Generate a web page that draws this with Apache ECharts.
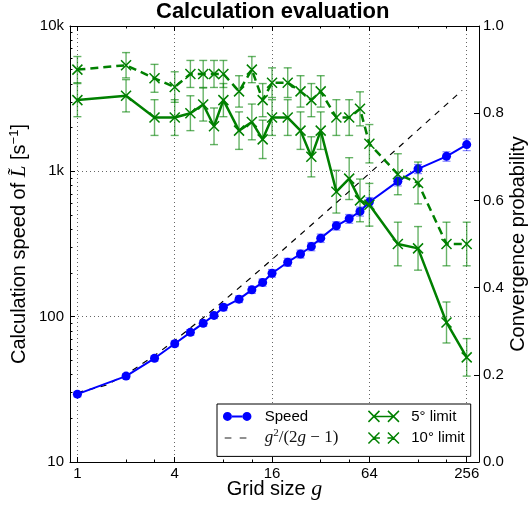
<!DOCTYPE html>
<html>
<head>
<meta charset="utf-8">
<script src="https://cdn.jsdelivr.net/npm/echarts@6/dist/echarts.min.js"></script>
<style>html,body{margin:0;padding:0;background:#fff}#c{width:529px;height:506px}</style>
</head>
<body>
<div id="c"></div>
<script>
// ---- data ----
const gridSizes = [1,2,3,4,5,6,7,8,10,12,14,16,20,24,28,32,40,48,56,64,96,128,192,256];
const speed = [29.3,39.0,51.7,65.1,78.0,90.0,102,116,132,153,172,199,237,270,304,347,422,472,530,615,853,1040,1268,1528];
const speedErr = [1.2,1.6,2.2,2.8,3.5,4.2,5,6,7,8.5,10,12,15,17,20,23,28,33,38,45,60,75,95,140];
const theoryG = [1,1.5,2,3,4,6,8,12,16,24,32,48,64,96,128,192,240];
const theory = [30,33.75,40,54,68.6,98.2,128,187.8,247.7,367.7,487.6,727.6,967.6,1447.5,1927.5,2887.5,3607.5];
const limit5 = [0.83,0.84,0.79,0.79,0.80,0.82,0.77,0.83,0.76,0.78,0.74,0.79,0.79,0.76,0.70,0.76,0.62,0.65,0.60,0.59,0.50,0.49,0.32,0.24];
const limit5Err = [0.038,0.037,0.041,0.041,0.040,0.038,0.042,0.038,0.043,0.041,0.044,0.041,0.041,0.043,0.046,0.043,0.049,0.048,0.049,0.049,0.050,0.050,0.047,0.043];
const limit10 = [0.90,0.91,0.88,0.86,0.89,0.89,0.89,0.89,0.85,0.90,0.83,0.87,0.87,0.85,0.83,0.85,0.79,0.79,0.81,0.73,0.66,0.64,0.50,0.50];
const limit10Err = [0.030,0.029,0.032,0.035,0.031,0.031,0.031,0.031,0.036,0.030,0.038,0.034,0.034,0.036,0.038,0.036,0.041,0.041,0.039,0.044,0.047,0.048,0.050,0.050];
const xTicks = [1,4,16,64,256];
const xMinorTicks = [2,3,8,12,32,48,128,192];
const yLeftTicks = [10,100,1000,10000];
const yLeftTickLabels = ['10','100','1k','10k'];
const yLeftMinorTicks = [20,30,40,50,60,70,80,90,200,300,400,500,600,700,800,900,2000,3000,4000,5000,6000,7000,8000,9000];

const SANS = 'Liberation Sans';
const SERIF = 'Liberation Serif';
const BLUE = '#0000ff', GREEN = '#008000';
const THEORY = 'theory';

const chart = echarts.init(document.getElementById('c'), null, {renderer: 'canvas'});

function errRender(color, capHalf, lw) {
  return function (params, api) {
    const x = api.value(0), lo = api.value(1), hi = api.value(2);
    const p1 = api.coord([x, lo]), p2 = api.coord([x, hi]);
    const style = {stroke: color, lineWidth: lw, fill: null};
    return {type: 'group', children: [
      {type: 'line', shape: {x1: p1[0], y1: p1[1], x2: p2[0], y2: p2[1]}, style: style},
      {type: 'line', shape: {x1: p1[0]-capHalf, y1: p1[1], x2: p1[0]+capHalf, y2: p1[1]}, style: style},
      {type: 'line', shape: {x1: p2[0]-capHalf, y1: p2[1], x2: p2[0]+capHalf, y2: p2[1]}, style: style}
    ]};
  };
}

const tickLabelStyle = {fontFamily: SANS, fontSize: 15, color: '#000'};
const axisLineStyle = {lineStyle: {color: '#000', width: 1}};
const gridLine = {show: true, lineStyle: {color: '#666', width: 1, type: [1, 3]}};
const isPow = (v, b) => { const e = Math.log(v)/Math.log(b); return Math.abs(e - Math.round(e)) < 1e-6; };

const xBase = {type: 'log', logBase: 4, min: 0.9, max: 305, gridIndex: 0};
const yBase = {type: 'log', logBase: 10, min: 10, max: 10000, gridIndex: 0};

const XMARK = 'path://M0,0L10,10M10,0L0,10';
const speedIcon = 'path://M0,0M32,12M1.75,6a4.5,4.5 0 1,0 9,0a4.5,4.5 0 1,0 -9,0zM21.25,6a4.5,4.5 0 1,0 9,0a4.5,4.5 0 1,0 -9,0zM10.5,5L21.5,5L21.5,7L10.5,7z';
const dashIcon = 'path://M0,0M32,12M3.5,5.4L10.2,5.4L10.2,6.6L3.5,6.6zM18.5,5.4L25.2,5.4L25.2,6.6L18.5,6.6z';
const x5Icon = 'path://M0,0M32,12M0.75,0.5L11.75,11.5M11.75,0.5L0.75,11.5M20.25,0.5L31.25,11.5M31.25,0.5L20.25,11.5M6.25,6L25.75,6';
const x10Icon = 'path://M0,0M32,12M0.75,0.5L11.75,11.5M11.75,0.5L0.75,11.5M20.25,0.5L31.25,11.5M31.25,0.5L20.25,11.5M6.25,6L12.25,6M19.75,6L25.75,6';

const richMath = {
  n: {fontFamily: SERIF, fontSize: 17, verticalAlign: 'middle', color: '#111'},
  i: {fontFamily: SERIF, fontStyle: 'italic', fontSize: 17, verticalAlign: 'middle', color: '#111'},
  s: {fontFamily: SERIF, fontSize: 11, lineHeight: 11, padding: [0,0,9,0], verticalAlign: 'middle', color: '#111'}
};

const option = {
  animation: false,
  backgroundColor: '#fff',
  title: {
    text: 'Calculation evaluation', left: 156, top: 1, padding: 0,
    textStyle: {fontFamily: SANS, fontSize: 22, fontWeight: 'bold', color: '#000'}
  },
  grid: {left: 70, right: 50, top: 26, bottom: 44, containLabel: false, outerBoundsMode: 'none'},
  legend: {
    orient: 'vertical', left: 217, top: 404, height: 53,
    padding: [1.6, 6, 7.6, 4.2], itemGap: 0, itemWidth: 32, itemHeight: 12,
    backgroundColor: '#fff', borderColor: '#000', borderWidth: 1, borderRadius: 0,
    selectedMode: false,
    textStyle: {fontFamily: SANS, fontSize: 15, color: '#000', lineHeight: 21.6, padding: [0,0,0,6.5], rich: richMath},
    formatter: function (name) {
      if (name === THEORY) return '{i|g}{s|2}{n|/(2}{i|g}{n| − 1)}';
      return name;
    },
    data: [
      {name: 'Speed', icon: speedIcon, itemStyle: {color: BLUE, borderWidth: 0}, textStyle: {width: 103}},
      {name: THEORY, icon: dashIcon, itemStyle: {color: '#222', borderWidth: 0}, textStyle: {width: 103}},
      {name: '5° limit', icon: x5Icon, itemStyle: {color: 'rgba(0,0,0,0)', borderColor: GREEN, borderWidth: 1.5}},
      {name: '10° limit', icon: x10Icon, itemStyle: {color: 'rgba(0,0,0,0)', borderColor: GREEN, borderWidth: 1.5}}
    ]
  },
  xAxis: [
    Object.assign({}, xBase, {
      position: 'bottom',
      name: '{n|Grid size }{i|g}', nameLocation: 'middle', nameGap: 16, nameMoveOverlap: false,
      nameTextStyle: {fontFamily: SANS, fontSize: 20, color: '#000', rich: {
        n: {fontFamily: SANS, fontSize: 20, color: '#000'},
        i: {fontFamily: SERIF, fontStyle: 'italic', fontSize: 22, color: '#000'}}},
      axisLine: axisLineStyle,
      axisTick: {show: true, inside: true, length: 5, lineStyle: {color: '#000'}, customValues: xTicks},
      axisLabel: Object.assign({margin: 4, customValues: xTicks,
        formatter: v => isPow(v, 4) ? String(Math.round(v)) : ''}, tickLabelStyle),
      splitLine: gridLine
    }),
    Object.assign({}, xBase, {
      position: 'top',
      axisLine: axisLineStyle,
      axisTick: {show: true, inside: true, length: 5, lineStyle: {color: '#000'}, customValues: xTicks},
      axisLabel: {show: false}, splitLine: {show: false}
    }),
    Object.assign({}, xBase, {
      position: 'bottom', axisLine: {show: false},
      axisTick: {show: true, inside: true, length: 2.5, lineStyle: {color: '#000'}, customValues: xMinorTicks},
      axisLabel: {show: false}, splitLine: {show: false}
    }),
    Object.assign({}, xBase, {
      position: 'top', axisLine: {show: false},
      axisTick: {show: true, inside: true, length: 2.5, lineStyle: {color: '#000'}, customValues: xMinorTicks},
      axisLabel: {show: false}, splitLine: {show: false}
    })
  ],
  yAxis: [
    Object.assign({}, yBase, {
      position: 'left',
      name: '{n|Calculation speed of }{i|L̃}{n| [s}{s|−1}{n|]}',
      nameLocation: 'middle', nameRotate: 90, nameGap: 40, nameMoveOverlap: false,
      nameTextStyle: {fontFamily: SANS, fontSize: 20, color: '#000', rich: {
        n: {fontFamily: SANS, fontSize: 20, color: '#000', verticalAlign: 'middle'},
        i: {fontFamily: SERIF, fontStyle: 'italic', fontSize: 21, color: '#000', verticalAlign: 'middle'},
        s: {fontFamily: SANS, fontSize: 13, lineHeight: 13, padding: [0,0,10,0], color: '#000', verticalAlign: 'middle'}}},
      axisLine: axisLineStyle,
      axisTick: {show: true, inside: true, length: 5, lineStyle: {color: '#000'}, customValues: yLeftTicks},
      axisLabel: Object.assign({margin: 6, customValues: yLeftTicks,
        formatter: v => { const k = yLeftTicks.findIndex(t => Math.abs(t - v) / t < 1e-6); return k >= 0 ? yLeftTickLabels[k] : ''; }}, tickLabelStyle),
      splitLine: gridLine
    }),
    {
      type: 'value', min: 0, max: 1, interval: 0.2, position: 'right', gridIndex: 0,
      name: 'Convergence probability', nameLocation: 'middle', nameRotate: 90, nameGap: 29, nameMoveOverlap: false,
      nameTextStyle: {fontFamily: SANS, fontSize: 20, color: '#000'},
      axisLine: axisLineStyle,
      axisTick: {show: true, inside: true, length: 5, lineStyle: {color: '#000'}},
      axisLabel: Object.assign({margin: 4, formatter: v => v.toFixed(1)}, tickLabelStyle),
      splitLine: {show: false}
    },
    Object.assign({}, yBase, {
      position: 'left', axisLine: {show: false},
      axisTick: {show: true, inside: true, length: 2.5, lineStyle: {color: '#000'}, customValues: yLeftMinorTicks},
      axisLabel: {show: false}, splitLine: {show: false}
    })
  ],
  series: [
    {
      name: THEORY, type: 'line', xAxisIndex: 0, yAxisIndex: 0,
      data: theoryG.map((g, i) => [g, theory[i]]),
      symbol: 'none', lineStyle: {color: '#000', width: 1.2, type: [6, 6]}, itemStyle: {color: '#000'},
      silent: true, z: 2
    },
    {
      name: 'Speed err', type: 'custom', xAxisIndex: 0, yAxisIndex: 0,
      data: gridSizes.map((g, i) => [g, speed[i] - speedErr[i], speed[i] + speedErr[i]]),
      encode: {x: 0, y: [1, 2]}, renderItem: errRender('rgba(40,40,255,0.55)', 4, 1.2), silent: true, z: 3
    },
    {
      name: 'Speed', type: 'line', xAxisIndex: 0, yAxisIndex: 0,
      data: gridSizes.map((g, i) => [g, speed[i]]),
      symbol: 'circle', symbolSize: 9, showAllSymbol: true,
      lineStyle: {color: BLUE, width: 2}, itemStyle: {color: BLUE},
      silent: true, z: 4
    },
    {
      name: '5° err', type: 'custom', xAxisIndex: 0, yAxisIndex: 1,
      data: gridSizes.map((g, i) => [g, limit5[i] - limit5Err[i], limit5[i] + limit5Err[i]]),
      encode: {x: 0, y: [1, 2]}, renderItem: errRender('rgba(0,128,0,0.6)', 4, 1.4), silent: true, z: 5
    },
    {
      name: '10° err', type: 'custom', xAxisIndex: 0, yAxisIndex: 1,
      data: gridSizes.map((g, i) => [g, limit10[i] - limit10Err[i], limit10[i] + limit10Err[i]]),
      encode: {x: 0, y: [1, 2]}, renderItem: errRender('rgba(0,128,0,0.6)', 4, 1.4), silent: true, z: 5
    },
    {
      name: '5° limit', type: 'line', xAxisIndex: 0, yAxisIndex: 1,
      data: gridSizes.map((g, i) => [g, limit5[i]]),
      symbol: XMARK, symbolSize: 10, showAllSymbol: true,
      lineStyle: {color: GREEN, width: 2.5},
      itemStyle: {color: 'rgba(0,0,0,0)', borderColor: GREEN, borderWidth: 1.5},
      silent: true, z: 6
    },
    {
      name: '10° limit', type: 'line', xAxisIndex: 0, yAxisIndex: 1,
      data: gridSizes.map((g, i) => [g, limit10[i]]),
      symbol: XMARK, symbolSize: 10, showAllSymbol: true,
      lineStyle: {color: GREEN, width: 2.5, type: [8, 5]},
      itemStyle: {color: 'rgba(0,0,0,0)', borderColor: GREEN, borderWidth: 1.5},
      silent: true, z: 6
    }
  ]
};
chart.setOption(option);
</script>
</body>
</html>
